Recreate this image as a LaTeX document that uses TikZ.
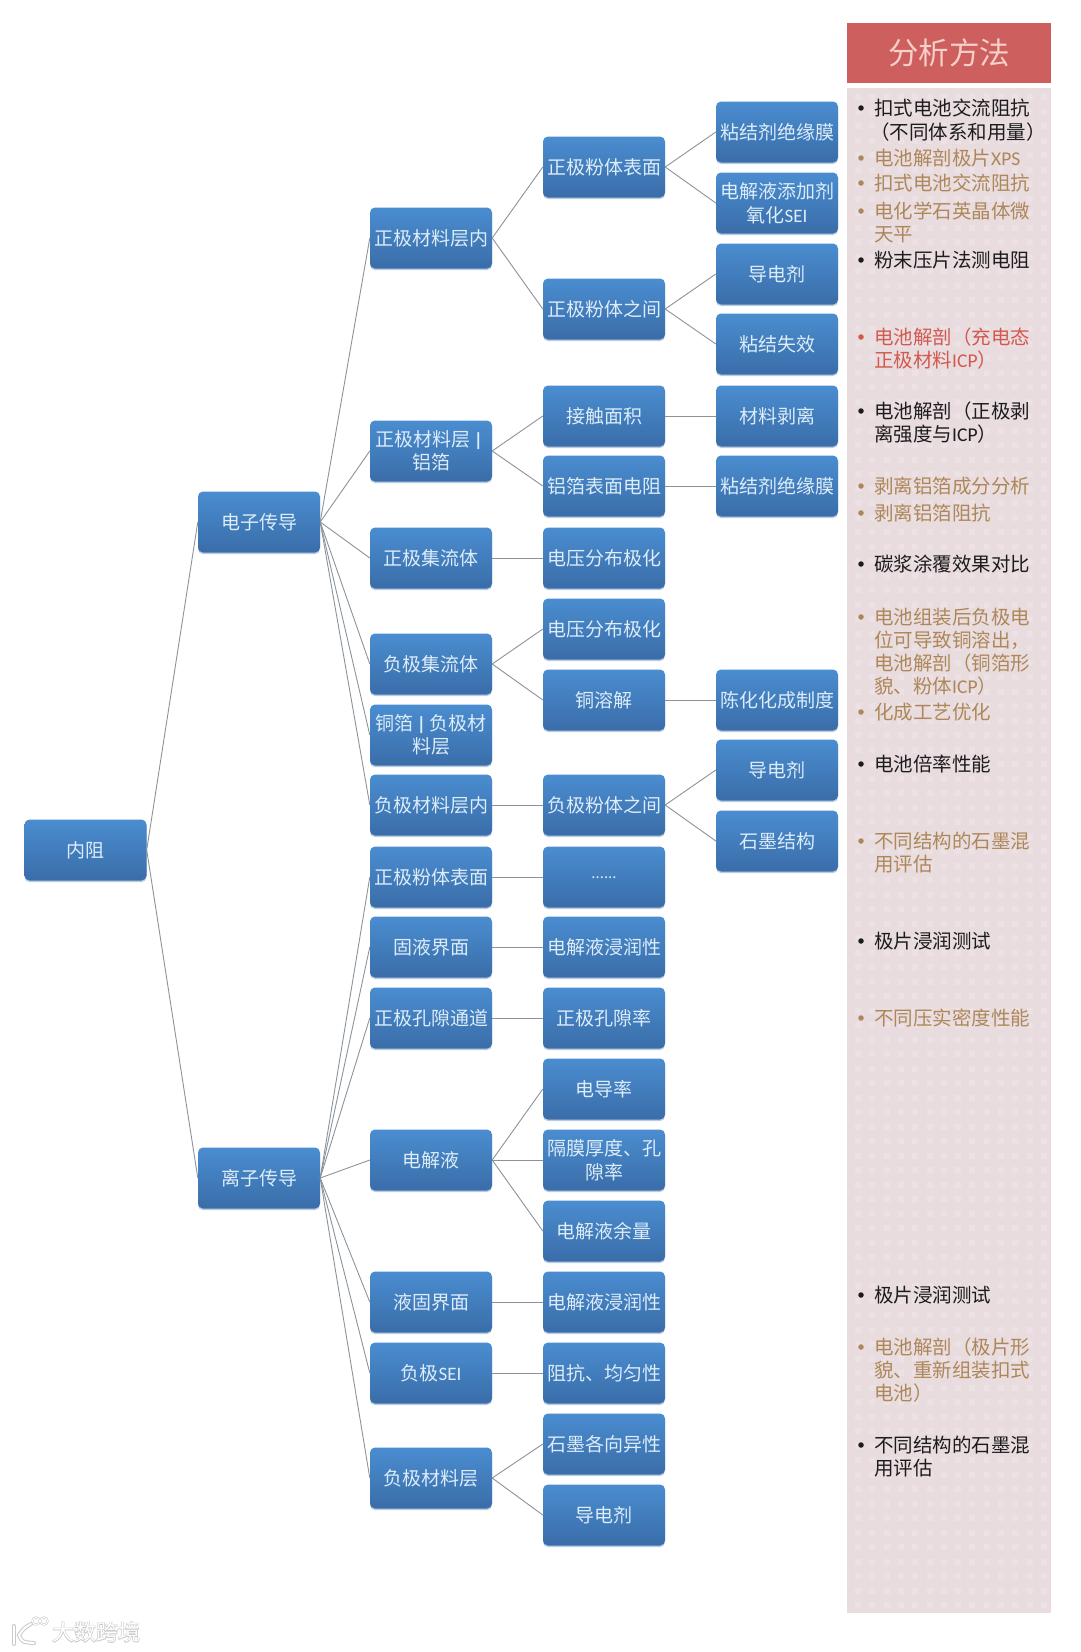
\documentclass[tikz,border=0pt]{standalone}
\usepackage{fontspec}
\setmainfont{Noto Sans CJK SC}
\newfontfamily\lat{Carlito}
\newfontfamily\wmfont[FakeBold=5]{Noto Sans CJK SC}
\usetikzlibrary{shadows}
\definecolor{boxtop}{HTML}{4A8DD0}
\definecolor{boxbot}{HTML}{3A6DA9}
\definecolor{boxtxt}{HTML}{DCECF8}
\definecolor{linkc}{HTML}{8A939B}
\definecolor{headc}{HTML}{CD5F5F}
\definecolor{headt}{HTML}{F6CFC8}
\definecolor{panelc}{HTML}{E9DCDF}
\definecolor{dotc}{HTML}{ECE1E4}
\definecolor{inkc}{HTML}{1C1C1C}
\definecolor{tanc}{HTML}{AD8759}
\definecolor{redc}{HTML}{D3584F}
\definecolor{wmc}{HTML}{C9C9C9}
\newcommand{\barsym}{\,{\lat\bfseries |}\,}
\tikzset{
  bx/.style={rounded corners=5pt,top color=boxtop,bottom color=boxbot,text=boxtxt,
    minimum width=122pt,minimum height=61pt,inner sep=0pt,align=center,
    font=\fontsize{19}{23.5}\selectfont,
    drop shadow={shadow xshift=0pt,shadow yshift=-1.6pt,fill=boxbot,opacity=0.35}},
  lnk/.style={draw=linkc,line width=0.9pt},
  pt/.style={anchor=base west,inner sep=0pt,font=\fontsize{19.5}{23}\selectfont},
  bul/.style={circle,inner sep=0pt,minimum size=5.5pt}
}
\begin{document}
\begin{tikzpicture}[x=1pt,y=-1pt]
\useasboundingbox (0,0) rectangle (1080,1652);
% panel
\node[fill=panelc,minimum width=204pt,minimum height=1525pt,inner sep=0pt] (panel) at (949,850.5) {};
\foreach \r in {0,...,104}{
  \foreach \q in {0,...,13}{
    \fill[dotc] (855+\q*14.3,94+\r*14.5) rectangle ++(6,6);
  }
}
\node[fill=headc,text=headt,minimum width=204pt,minimum height=60pt,inner sep=0pt,font=\fontsize{30.5}{32}\selectfont] (head) at (949,53) {分析方法};
% panel text
\foreach \y/\c/\b/\t [count=\i] in {
 108/inkc/1/{扣式电池交流阻抗},
 132/inkc/0/{\hspace{-4pt}（不同体系和用量）},
 158/tanc/1/{电池解剖极片{\lat XPS}},
 183/tanc/1/{扣式电池交流阻抗},
 211/tanc/1/{电化学石英晶体微},
 234/tanc/0/{天平},
 260/inkc/1/{粉末压片法测电阻},
 337/redc/1/{电池解剖（充电态},
 360/redc/0/{正极材料{\lat ICP}）},
 411/inkc/1/{电池解剖（正极剥},
 434/inkc/0/{离强度与{\lat ICP}）},
 486/tanc/1/{剥离铝箔成分分析},
 513/tanc/1/{剥离铝箔阻抗},
 564/inkc/1/{碳浆涂覆效果对比},
 617/tanc/1/{电池组装后负极电},
 640/tanc/0/{位可导致铜溶出，},
 663/tanc/0/{电池解剖（铜箔形},
 686/tanc/0/{貌、粉体{\lat ICP}）},
 712/tanc/1/{化成工艺优化},
 764/inkc/1/{电池倍率性能},
 841/tanc/1/{不同结构的石墨混},
 864/tanc/0/{用评估},
 941/inkc/1/{极片浸润测试},
 1018/tanc/1/{不同压实密度性能},
 1295/inkc/1/{极片浸润测试},
 1347/tanc/1/{电池解剖（极片形},
 1370/tanc/0/{貌、重新组装扣式},
 1393/tanc/0/{电池）},
 1445/inkc/1/{不同结构的石墨混},
 1468/inkc/0/{用评估}}{
  \node[pt,text=\c] (pt\i) at (874,\y+7) {\t};
  \ifnum\b=1 \node[bul,fill=\c] (pb\i) at (861,\y) {}; \fi
}
% boxes
\node[bx] (root) at (85.5,850) {内阻};
\node[bx] (e) at (259,522) {电子传导};
\node[bx] (i) at (259,1178) {离子传导};
% level 2
\node[bx] (a1) at (431,238) {正极材料层内};
\node[bx] (a2) at (431,451) {正极材料层\barsym\\铝箔};
\node[bx] (a3) at (431,558) {正极集流体};
\node[bx] (a4) at (431,664) {负极集流体};
\node[bx] (a5) at (431,735) {铜箔\barsym 负极材\\料层};
\node[bx] (a6) at (431,805) {负极材料层内};
\node[bx] (a7) at (431,877) {正极粉体表面};
\node[bx] (a8) at (431,947) {固液界面};
\node[bx] (a9) at (431,1018) {正极孔隙通道};
\node[bx] (a10) at (431,1160) {电解液};
\node[bx] (a11) at (431,1302) {液固界面};
\node[bx] (a12) at (431,1373) {负极{\lat SEI}};
\node[bx] (a13) at (431,1478) {负极材料层};
% level 3
\node[bx] (b1) at (604,167) {正极粉体表面};
\node[bx] (b2) at (604,309) {正极粉体之间};
\node[bx] (b3) at (604,416) {接触面积};
\node[bx] (b4) at (604,486) {铝箔表面电阻};
\node[bx] (b5) at (604,558) {电压分布极化};
\node[bx] (b6) at (604,629) {电压分布极化};
\node[bx] (b7) at (604,700) {铜溶解};
\node[bx] (b8) at (604,805) {负极粉体之间};
\node[bx] (b9) at (604,877) {\raisebox{-3pt}{\fontsize{15}{15}\selectfont ......}};
\node[bx] (b10) at (604,947) {电解液浸润性};
\node[bx] (b11) at (604,1018) {正极孔隙率};
\node[bx] (b12) at (604,1089) {电导率};
\node[bx] (b13) at (604,1160) {隔膜厚度、孔\\隙率};
\node[bx] (b14) at (604,1231) {电解液余量};
\node[bx] (b15) at (604,1302) {电解液浸润性};
\node[bx] (b16) at (604,1373) {阻抗、均匀性};
\node[bx] (b17) at (604,1444) {石墨各向异性};
\node[bx] (b18) at (604,1515) {导电剂};
% level 4
\node[bx] (c1) at (777,132) {粘结剂绝缘膜};
\node[bx] (c2) at (777,203) {电解液添加剂\\氧化{\lat SEI}};
\node[bx] (c3) at (777,274) {导电剂};
\node[bx] (c4) at (777,344) {粘结失效};
\node[bx] (c5) at (777,416) {材料剥离};
\node[bx] (c6) at (777,486) {粘结剂绝缘膜};
\node[bx] (c7) at (777,700) {陈化化成制度};
\node[bx] (c8) at (777,770) {导电剂};
\node[bx] (c9) at (777,841) {石墨结构};
% connectors
\foreach \p/\k in {root/e,root/i,
  e/a1,e/a2,e/a3,e/a4,e/a5,e/a6,
  i/a7,i/a8,i/a9,i/a10,i/a11,i/a12,i/a13,
  a1/b1,a1/b2,a2/b3,a2/b4,a3/b5,a4/b6,a4/b7,a6/b8,a7/b9,a8/b10,a9/b11,
  a10/b12,a10/b13,a10/b14,a11/b15,a12/b16,a13/b17,a13/b18,
  b1/c1,b1/c2,b2/c3,b2/c4,b3/c5,b4/c6,b7/c7,b8/c8,b8/c9}{
  \draw[lnk] (\p.east) -- (\k.west);
}
% watermark
\coordinate (wm1) at (14,1626);
\coordinate (wm2) at (14,1644);
\coordinate (wm3) at (31,1624);
\coordinate (wm4) at (19,1635);
\coordinate (wm5) at (34,1643);
\foreach \w/\col in {4/wmc,2/white}{
  \draw[line width=\w pt,draw=\col,line cap=round] (wm1) -- (wm2);
  \draw[line width=\w pt,draw=\col,line cap=round] (wm3) .. controls (24,1628) .. (wm4) .. controls (22,1642) .. (wm5);
  \draw[line width=\w pt/2,draw=\col] (36,1621) circle (3.6);
  \draw[line width=\w pt/2,draw=\col] (44,1621) circle (3.6);
}
\node[inner sep=0pt,text=wmc,font=\fontsize{22}{24}\wmfont] (wmb) at (96,1632) {大数跨境};
\node[inner sep=0pt,text=white,font=\fontsize{22}{24}\selectfont] (wmt) at (96,1632) {大数跨境};
\end{tikzpicture}
\end{document}
